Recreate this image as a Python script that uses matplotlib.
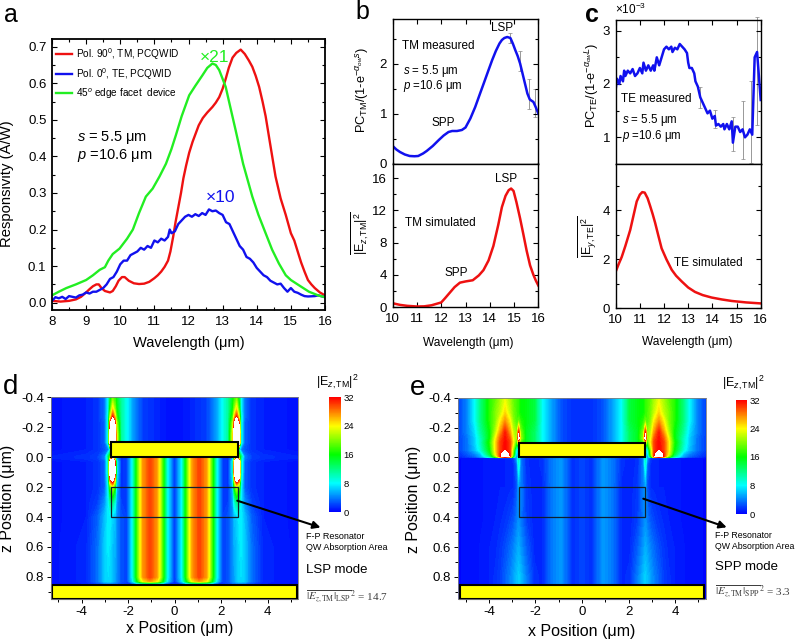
import numpy as np
import matplotlib
matplotlib.use('Agg')
import matplotlib.pyplot as plt
from matplotlib.colors import LinearSegmentedColormap, Normalize
from matplotlib.cm import ScalarMappable
from matplotlib.patches import Rectangle, FancyArrowPatch

plt.rcParams['font.family'] = ['Liberation Sans', 'DejaVu Sans']
plt.rcParams['mathtext.fontset'] = 'custom'
plt.rcParams['mathtext.rm'] = 'Liberation Sans'
plt.rcParams['mathtext.it'] = 'Liberation Sans:italic'
plt.rcParams['mathtext.bf'] = 'Liberation Sans:bold'
plt.rcParams['axes.unicode_minus'] = False

W, H = 800, 640

# panel a
a_red_x = [8, 8.25, 8.5, 8.7, 8.85, 9.0, 9.1, 9.2, 9.3, 9.37, 9.45, 9.55, 9.7, 9.78, 9.87, 9.95, 10.05, 10.13, 10.25,
           10.4, 10.55, 10.7, 10.85, 11.0, 11.1, 11.2, 11.3, 11.4, 11.47, 11.55, 11.62, 11.7, 11.78, 11.85, 11.93,
           12.02, 12.12, 12.2, 12.3, 12.42, 12.55, 12.7, 12.8, 12.9, 13.0, 13.09, 13.18, 13.29, 13.4, 13.53, 13.65,
           13.77, 13.87, 13.97, 14.07, 14.17, 14.26, 14.4, 14.55, 14.7, 14.85, 15.0, 15.1, 15.2, 15.3, 15.4, 15.5,
           15.6, 15.7, 15.85, 16]
a_red_y = [.005, .003, .005, .009, .016, .028, .037, .045, .05, .05, .04, .032, .028, .032, .045, .06, .07, .07, .06,
           .053, .051, .052, .057, .067, .075, .085, .098, .115, .14, .18, .22, .26, .30, .34, .375,
           .41, .44, .46, .485, .505, .52, .535, .547, .562, .585, .612, .642, .67, .683, .692, .68,
           .662, .645, .62, .59, .55, .51, .43, .345, .285, .24, .19, .17, .14, .11, .085, .062,
           .05, .04, .028, .02]
a_green_x = [8, 8.2, 8.42, 8.7, 9, 9.2, 9.4, 9.55, 9.65, 9.78, 9.98, 10.2, 10.37, 10.55, 10.75, 10.95, 11.15, 11.34,
             11.5, 11.63, 11.8, 12.02, 12.2, 12.41, 12.55, 12.7, 12.8, 12.9, 13.0, 13.09, 13.2, 13.38, 13.6, 13.87,
             14.05, 14.26, 14.45, 14.65, 14.85, 15, 15.23, 15.53, 15.8, 16]
a_green_y = [.02, .03, .04, .05, .062, .075, .09, .097, .115, .133, .148, .175, .2, .245, .29, .312, .345, .38,
             .42, .458, .51, .567, .593, .622, .642, .654, .65, .636, .612, .59, .545, .472, .38, .29,
             .24, .19, .145, .107, .075, .062, .048, .03, .02, .015]
a_blue_x = [8, 8.1, 8.2, 8.3, 8.4, 8.5, 8.6, 8.7, 8.8, 8.9, 9, 9.1, 9.2, 9.3, 9.4, 9.5, 9.6, 9.7, 9.8, 9.9, 10, 10.1,
            10.2, 10.3, 10.4, 10.5, 10.6, 10.7, 10.8, 10.9, 11, 11.1, 11.2, 11.3, 11.4, 11.45, 11.5, 11.6, 11.7, 11.8,
            11.9, 12, 12.1, 12.2, 12.3, 12.4, 12.5, 12.6, 12.7, 12.8, 12.9, 13, 13.1, 13.2, 13.3, 13.4, 13.5, 13.6,
            13.7, 13.8, 13.9, 14, 14.1, 14.2, 14.3, 14.4, 14.5, 14.6, 14.7, 14.8, 14.9, 15, 15.1, 15.2, 15.3, 15.4,
            15.5, 15.7, 15.8, 16]
a_blue_y = [.005, .015, .012, .016, .01, .018, .016, .014, .02, .022, .028, .025, .03, .03, .035, .04, .05, .065, .07,
            .085, .105, .115, .115, .13, .135, .14, .15, .145, .155, .15, .17, .165, .175, .17, .18, .2, .19, .195,
            .215, .225, .235, .24, .235, .242, .237, .245, .24, .255, .25, .252, .245, .24, .22, .215, .195, .175,
            .155, .145, .125, .12, .11, .095, .085, .075, .07, .06, .055, .05, .052, .04, .03, .04, .03, .027, .022,
            .018, .017, .018, .02, .015]

# panel b
b_meas_x = [10, 10.15, 10.3, 10.5, 10.7, 10.9, 11.05, 11.25, 11.4, 11.65, 11.9, 12.1, 12.3, 12.45, 12.65, 12.85, 13,
            13.2, 13.4, 13.6, 13.75, 13.95, 14.1, 14.25, 14.4, 14.5, 14.6, 14.72, 14.85, 14.95, 15.05, 15.15, 15.25,
            15.35, 15.45, 15.55, 15.65, 15.8, 15.9, 16]
b_meas_y = [.35, .28, .23, .18, .15, .145, .15, .2, .25, .35, .47, .56, .63, .65, .65, .67, .72,
            .9, 1.13, 1.4, 1.6, 1.87, 2.07, 2.25, 2.4, 2.47, 2.51, 2.53, 2.51, 2.4, 2.27, 2.15, 2,
            1.8, 1.6, 1.4, 1.28, 1.23, 1.12, 1]
b_err_x = [14.85, 15.25, 15.6, 15.85]
b_err_y = [2.51, 2.05, 1.4, 1.22]
b_err = [.1, .2, .3, .28]
b_sim_x = [10, 10.3, 10.6, 11, 11.3, 11.6, 12, 12.15, 12.35, 12.55, 12.77, 13, 13.3, 13.55, 13.74, 13.95, 14.15, 14.35,
           14.5, 14.65, 14.78, 14.88, 14.98, 15.1, 15.25, 15.38, 15.52, 15.66, 15.8, 15.9, 16]
b_sim_y = [.5, .3, .18, .1, .12, .25, .6, 1.1, 1.8, 2.5, 3.05, 3.2, 3.35, 3.95, 4.6, 5.8, 7.6, 10.2,
           12.4, 13.8, 14.5, 14.7, 14.4, 13, 11, 9.1, 7, 5.2, 4, 3.3, 2.7]

# panel c
c_meas_x = [10, 10.05, 10.15, 10.2, 10.3, 10.35, 10.4, 10.5, 10.6, 10.7, 10.8, 10.9, 11, 11.1, 11.15, 11.25, 11.35,
            11.45, 11.55, 11.6, 11.7, 11.8, 11.9, 12, 12.1, 12.2, 12.3, 12.35, 12.45, 12.55, 12.65, 12.75, 12.85,
            12.95, 13, 13.05, 13.15, 13.25, 13.3, 13.4, 13.5, 13.6, 13.7, 13.8, 13.9, 14, 14.1, 14.15, 14.25, 14.35,
            14.45, 14.5, 14.6, 14.7, 14.8, 14.85, 14.95, 15.05, 15.15, 15.25, 15.35, 15.45, 15.55, 15.65, 15.75,
            15.85, 15.95, 16]
c_meas_y = [1.9, 2.1, 2.0, 2.15, 2.05, 2.25, 2.15, 2.25, 2.2, 2.28, 2.15, 2.2, 2.3, 2.2, 2.4, 2.25, 2.35, 2.25, 2.35,
            2.25, 2.5, 2.35, 2.5, 2.65, 2.7, 2.65, 2.7, 2.6, 2.68, 2.65, 2.75, 2.7, 2.65, 2.58, 2.4, 2.3, 2.3, 2.2,
            2.05, 1.95, 1.75, 1.65, 1.55, 1.45, 1.5, 1.35, 1.4, 1.22, 1.25, 1.2, 1.25, 1.15, 1.25, 1.15, 1.3, .9,
            1.2, 1.2, 1.1, 1.15, 1.0, 1.05, 1.15, 1.05, 2.5, 2.6, 2.0, 1.7]
c_err_x = [13.5, 14.1, 14.85, 15.25, 15.6, 15.85]
c_err_y = [1.75, 1.35, 1.07, 1.14, 1.28, 2.24]
c_err = [.2, .17, .32, .54, .77, 1.01]
c_sim_x = [10, 10.12, 10.25, 10.4, 10.6, 10.75, 10.87, 11.0, 11.1, 11.2, 11.32, 11.42, 11.53, 11.63, 11.77, 11.9, 12.1,
           12.32, 12.5, 12.73, 13, 13.28, 13.6, 13.97, 14.4, 14.8, 15.4, 16]
c_sim_y = [1.5, 1.8, 2.1, 2.55, 3.2, 3.85, 4.37, 4.65, 4.75, 4.73, 4.5, 4.2, 3.85, 3.5, 2.95, 2.45, 2.0,
           1.57, 1.33, 1.1, .85, .67, .54, .44, .36, .3, .24, .2]

# panel d, field read on half of the width, |x| columns, z rows
d_x = [0, .31, .5, .66, .76, 1.06, 1.36, 1.46, 1.62, 1.81, 2.05, 2.3, 2.5, 2.56, 2.66, 2.77, 2.85, 3.0, 3.3, 3.8, 5.31]
d_z = [-.40, -.32, -.27, -.23, -.15, -.10, -.05, -.005, .005, .03, .10, .15, .20, .30, .40, .60, .80, .83, .85, .95]
d_over = [.5, .6, .8, 1, 1.2, 1.5, 2, 2.5, 3.5, 5, 8]
d_stripes = [1.5, 8, 17, 24, 27, 30, 27, 24, 17, 8, 2]
d_field = [
    d_over + [11, 15, 17, 19, 14, 8, 3.5, 1.5, 1, .5],
    d_over + [11, 16, 20, 25, 17, 8, 3.5, 1.5, 1, .5],
    d_over + [11, 18, 25, 31, 22, 9, 3.5, 1.5, 1, .5],
    d_over + [11, 21, 31, 40, 30, 9, 3, 1.5, 1, .5],
    d_over + [11, 24, 38, 70, 38, 9, 3, 1.5, 1, .5],
    d_over + [11, 24, 38, 70, 38, 9, 3, 1.5, 1, .5],
    d_over + [11, 24, 30, 30, 8, 4, 2.5, 1.5, 1, .5],
    d_over + [11, 24, 28, 26, 18, 12, 4, 2, 1.5, 1],
    d_stripes + [1.5, 5, 18, 24, 20, 11, 4, 2, 1.5, 1],
    d_stripes + [1.5, 8, 30, 70, 36, 10, 3, 1.5, 1, .5],
    d_stripes + [1.5, 8, 33, 70, 38, 10, 3, 1.5, 1, .5],
    d_stripes + [1.5, 7, 24, 36, 30, 9, 3, 1.5, 1, .5],
    d_stripes + [1.5, 6, 16, 22, 18, 8, 3, 1.5, 1, .5],
    d_stripes + [2, 5, 9, 12, 11, 7.5, 4.5, 2, 1, .5],
    d_stripes + [2.5, 4.5, 6, 6.5, 7.5, 7.5, 6, 3, 1, .5],
    d_stripes + [2.5, 4.5, 5.5, 6, 7, 7.5, 6.5, 3.5, 1.2, .5],
    d_stripes + [2.5, 4.5, 5, 6, 7, 7, 6.5, 3.5, 1.2, .5],
    [1.5, 7, 15, 21, 24, 27, 24, 21, 15, 7, 2, 2.5, 4.5, 5, 6, 7, 7, 6.5, 3.5, 1.2, .5],
    [1.5, 2, 3, 4, 4, 4, 4, 4, 3, 2, 1.5, 2, 3, 3, 3, 3, 3, 3, 2, 1, .5],
    [1.5, 2, 3, 4, 4, 4, 4, 4, 3, 2, 1.5, 2, 3, 3, 3, 3, 3, 3, 2, 1, .5],
]

# panel e
e_x = [0, .4, .9, 1.3, 1.7, 2.05, 2.4, 2.64, 2.72, 2.8, 2.95, 3.1, 3.3, 3.5, 3.7, 3.95, 4.35, 4.6, 4.95, 5.31]
e_z = [-.40, -.30, -.25, -.17, -.13, -.10, -.05, -.02, -.004, .004, .05, .20, .40, .60, .80, .95]
e_over = [1.5, 1.5, 2.5, 5, 8]
e_out = [1.2, 1, 1, 1, .8, .6, .5, .4, .3]
e_field = [
    e_over + [14, 15.5, 16, 17, 18, 19, 21, 23, 21, 19, 17, 12, 8, 4, 2],
    e_over + [14, 15.5, 16, 17, 18, 19.5, 22, 25, 22, 20, 17, 12, 8, 4, 2],
    e_over + [14, 15.5, 17, 19, 18, 20, 24, 27, 24, 20, 17, 12, 8, 4, 2],
    e_over + [13, 15, 20, 31, 20, 22, 27, 31, 27, 22, 16, 11, 7, 4, 2],
    e_over + [13, 15, 21, 35, 20, 23, 29, 31.5, 29, 24, 16, 10, 6.5, 3.5, 2],
    e_over + [13, 15, 18, 26, 16, 24, 30, 31.8, 30, 25, 17, 10, 6.5, 3.5, 2],
    e_over + [13, 14, 16, 8, 6, 20, 30, 31.9, 30, 25, 16, 9, 6, 3.5, 2],
    e_over + [13, 14, 16, 8, 4, 18, 31, 36, 31, 24, 14, 6, 4, 2.5, 1.5],
    e_over + [13, 14, 16, 8, 2, 14, 31, 37, 31, 20, 11, 5, 3, 2, 1],
    [2.2, 1.4, 4.8, 3.8, 1.5, 1, 1.5, 4, 10, 5, 1.5] + e_out,
    [2.2, 1.4, 4.8, 3.8, 1.5, 1, 1.5, 4, 9, 3, 1.3] + e_out,
    [2.2, 1.4, 4.8, 3.8, 1.2, 1, 1.8, 4, 5, 2.5, 1.3] + e_out,
    [2.2, 1.4, 4.8, 3.8, 1.2, 1, 2, 3.8, 4.5, 3.6, 2.5, 2, 1.5, 1.2, 1, .8, .6, .5, .4, .3],
    [2.2, 1.4, 4.8, 3.8, 1.2, 1.2, 3, 4.8, 5.5, 5, 4, 3.2, 2.3, 1.7, 1.2, 1, .7, .5, .4, .3],
    [2.2, 1.4, 4.8, 3.8, 1.2, 1.5, 4, 6, 6.5, 6, 5, 4, 3, 2, 1.5, 1, .7, .5, .4, .3],
    [2.2, 1.4, 4.8, 3.8, 1.2, 1.5, 4, 6, 6.5, 6, 5, 4, 3, 2, 1.5, 1, .7, .5, .4, .3],
]
cb_ticks = [0, 8, 16, 24, 32]

cmap = LinearSegmentedColormap.from_list('fld', ['#0000ff', '#00ffff', '#00ff00', '#ffff00', '#ff0000'])
cmap.set_over('white')
norm = Normalize(0, 32)

fig = plt.figure(figsize=(W / 100, H / 100), dpi=100)


def make_ax(l, t, r, b):
    return fig.add_axes([l / W, 1 - b / H, (r - l) / W, (b - t) / H])


def txt(x, y, s, size=8.5, ha='left', **kw):
    return fig.text(x / W, 1 - y / H, s, fontsize=size, ha=ha, va='center', **kw)


def curve_ticks(ax, lw=1.0):
    ax.tick_params(which='both', direction='in', top=True, right=True, width=.8, labelsize=9.5)
    ax.tick_params(axis='x', pad=4)
    ax.tick_params(axis='y', pad=4)
    ax.tick_params(which='major', length=3.5)
    ax.tick_params(which='minor', length=2)
    for sp in ax.spines.values():
        sp.set_linewidth(lw)


# a
ax = make_ax(52, 39, 325, 310)
ax.plot(a_red_x, a_red_y, color='#ee1111', lw=1.7, label='Pol. 90$^0$, TM, PCQWID')
ax.plot(a_blue_x, a_blue_y, color='#1111ee', lw=1.7, label='Pol. 0$^0$, TE, PCQWID')
ax.plot(a_green_x, a_green_y, color='#22ee22', lw=1.7, label='45$^o$ edge facet  device')
ax.set_xlim(8, 16)
ax.set_ylim(-.02, .721)
ax.set_xticks(range(8, 17))
ax.set_xticks(np.arange(8, 16.1, .5), minor=True)
ax.set_yticks(np.arange(0, .71, .1))
ax.set_yticks(np.arange(0, .71, .05), minor=True)
curve_ticks(ax, 1.3)
ax.legend(loc='upper left', bbox_to_anchor=(.015, .975), frameon=False, fontsize=7.2, handlelength=1.6,
          handletextpad=.4, labelspacing=.45, borderpad=0, borderaxespad=0)
txt(4, 15, 'a', 18)
txt(7.5, 184, 'Responsivity (A/W)', 10.7, ha='center', rotation=90)
txt(189, 343, 'Wavelength (μm)', 10.5, ha='center')
txt(215, 57, '×21', 12.5, ha='center', color='#22ee22')
txt(221, 197, '×10', 12.5, ha='center', color='#1111ee')
txt(77, 137, '$s$ = 5.5 μm', 10.5)
txt(77, 156, '$p$ =10.6 μm', 10.5)

# b
ax = make_ax(392.7, 19, 538.3, 163.5)
ax.errorbar(b_err_x, b_err_y, yerr=b_err, color='#888888', lw=.6, capsize=1.5, capthick=.5, ls='none', zorder=1)
ax.plot(b_meas_x, b_meas_y, color='#1111ee', lw=1.8)
ax.set_xlim(10, 16)
ax.set_ylim(0, 2.89)
ax.set_xticks(range(10, 17))
ax.set_xticklabels([])
ax.set_yticks([0, 1, 2])
ax.set_yticks([.5, 1.5, 2.5], minor=True)
curve_ticks(ax)
ax.tick_params(which='both', bottom=False)

ax = make_ax(392.7, 163.5, 538.3, 307.3)
ax.plot(b_sim_x, b_sim_y, color='#ee1111', lw=1.8)
ax.set_xlim(10, 16)
ax.set_ylim(0, 17.8)
ax.set_xticks(range(10, 17))
ax.set_yticks([0, 4, 8, 12, 16])
ax.set_yticks([2, 6, 10, 14], minor=True)
curve_ticks(ax)
ax.tick_params(which='both', top=False)
txt(355, 12, 'b', 18)
txt(438, 46, 'TM measured', 8.5, ha='center')
txt(402.7, 71.2, '$s$ = 5.5 μm', 8.3)
txt(402.7, 86.5, '$p$ =10.6 μm', 8.3)
txt(501.7, 28.3, 'LSP', 8.5, ha='center')
txt(443, 123, 'SPP', 8.5, ha='center')
txt(440.7, 222.7, 'TM simulated', 8.5, ha='center')
txt(505.7, 179, 'LSP', 8.5, ha='center')
txt(456, 273, 'SPP', 8.5, ha='center')
txt(362.7, 90, r'PC$_{\mathrm{TM}}$/(1-e$^{-\alpha_{ow}s}$)', 9.2, ha='center', rotation=90)
txt(360, 233, r'$\overline{|\mathrm{E}_{z,\mathrm{TM}}|^2}$', 9, ha='center', rotation=90)
txt(468, 343, 'Wavelength (μm)', 8.6, ha='center')

# c
ax = make_ax(615.7, 20, 760.7, 164)
ax.errorbar(c_err_x, c_err_y, yerr=c_err, color='#888888', lw=.6, capsize=1.5, capthick=.5, ls='none', zorder=1,
            clip_on=False)
ax.plot(c_meas_x, c_meas_y, color='#1111ee', lw=1.8)
ax.set_xlim(10, 16)
ax.set_ylim(.5, 3.2)
ax.set_xticks(range(10, 17))
ax.set_xticklabels([])
ax.set_yticks([1, 2, 3])
ax.set_yticks([1.5, 2.5], minor=True)
curve_ticks(ax)
ax.tick_params(which='both', bottom=False)

ax = make_ax(615.7, 164, 760.7, 308.3)
ax.plot(c_sim_x, c_sim_y, color='#ee1111', lw=1.8)
ax.set_xlim(10, 16)
ax.set_ylim(0, 5.9)
ax.set_xticks(range(10, 17))
ax.set_yticks([0, 2, 4])
ax.set_yticks([1, 3, 5], minor=True)
curve_ticks(ax)
ax.tick_params(which='both', top=False)
txt(585, 15, 'c', 18, fontweight='bold')
txt(615, 9, r'×10$^{-3}$', 8.5)
txt(656, 99, 'TE measured', 8.5, ha='center')
txt(621.7, 120.5, '$s$ = 5.5 μm', 8.3)
txt(621.7, 136.5, '$p$ =10.6 μm', 8.3)
txt(708, 263, 'TE simulated', 8.5, ha='center')
txt(592, 85, r'PC$_{\mathrm{TE}}$/(1-e$^{-\alpha_{ow}L}$)', 9.2, ha='center', rotation=90)
txt(587, 237, r'$\overline{|\mathrm{E}_{y,\mathrm{TE}}|^2}$', 9, ha='center', rotation=90)
txt(687, 342, 'Wavelength (μm)', 8.6, ha='center')


def field_panel(box, xs, zs, field, head):
    ax = make_ax(*box)
    half = np.array(xs)
    vals = np.array(field)
    x_full = np.concatenate([-half[::-1], half[1:]])
    vals_full = np.hstack([vals[:, ::-1], vals[:, 1:]])
    ax.contourf(x_full, zs, vals_full, levels=np.linspace(0, 32, 97), cmap=cmap, norm=norm, extend='max',
                antialiased=False)
    ax.set_xlim(-5.31, 5.31)
    ax.set_ylim(.95, -.4)
    ax.add_patch(Rectangle((-2.72, -.1), 5.44, .1, fc='#ffff00', ec='k', lw=1.5))
    ax.add_patch(Rectangle((-5.25, .855), 10.5, .095, fc='#ffff00', ec='k', lw=1.5, clip_on=False))
    ax.add_patch(Rectangle((-2.72, .2), 5.44, .2, fc='none', ec='#102030', lw=.9))
    ax.set_xticks([-4, -2, 0, 2, 4])
    ax.set_xticks([-5, -3, -1, 1, 3, 5], minor=True)
    ax.set_yticks([-.4, -.2, 0, .2, .4, .6, .8])
    ax.set_yticklabels(['-0.4', '-0.2', '0.0', '0.2', '0.4', '0.6', '0.8'])
    ax.set_yticks(np.arange(-.3, .95, .2), minor=True)
    ax.tick_params(which='both', direction='out', labelsize=9.5, width=.7, pad=2)
    ax.tick_params(which='major', length=3)
    ax.tick_params(which='minor', length=2)
    for sp in ax.spines.values():
        sp.set_linewidth(.6)
        sp.set_color('#808080')
    fig.add_artist(FancyArrowPatch(
        (head[0] / W, 1 - head[1] / H), (head[2] / W, 1 - head[3] / H), transform=fig.transFigure,
        arrowstyle='-|>', mutation_scale=11, lw=1.5, color='k', shrinkA=0, shrinkB=0))


def colorbar(box, x_title, y_title):
    cax = make_ax(*box)
    cb = fig.colorbar(ScalarMappable(norm=norm, cmap=cmap), cax=cax, ticks=cb_ticks)
    cb.outline.set_visible(False)
    cax.tick_params(length=0, labelsize=6.8, pad=2)
    txt(x_title, y_title, r'|E$_{z,\mathrm{TM}}$|$^2$', 9, ha='center')


# d
field_panel((51, 397.3, 298.3, 599.3), d_x, d_z, d_field, (237.3, 500.7, 320.5, 527.5))
colorbar((329.3, 397.3, 340.7, 512), 337, 382)
txt(3, 387, 'd', 20)
txt(180, 628, 'x Position (μm)', 11.5, ha='center')
txt(8, 498, 'z Position (μm)', 11.5, ha='center', rotation=90)
txt(306, 536.7, 'F-P Resonator', 6.5)
txt(306, 547.7, 'QW Absorption Area', 6.5)
txt(306, 570, 'LSP mode', 9.5)
txt(306, 597, r'$\overline{|E_{z,\mathrm{TM}}|_{\mathrm{LSP}}}^{\,2}$ = 14.7', 8, color='#404040',
    math_fontfamily='stix', family='Liberation Serif')

# e
field_panel((458.3, 397.7, 705.7, 599.3), e_x, e_z, e_field, (643.3, 498.7, 726.7, 527.3))
colorbar((735.7, 400, 746.7, 514), 743, 383)
txt(410, 388, 'e', 20)
txt(581.7, 631.7, 'x Position (μm)', 11.5, ha='center')
txt(414, 499, 'z Position (μm)', 11.5, ha='center', rotation=90)
txt(715, 535.7, 'F-P Resonator', 6.3)
txt(715, 546.7, 'QW Absorption Area', 6.3)
txt(715, 566.7, 'SPP mode', 9.5)
txt(715, 591.7, r'$\overline{|E_{z,\mathrm{TM}}|_{\mathrm{SPP}}}^{\,2}$ = 3.3', 8, color='#404040',
    math_fontfamily='stix', family='Liberation Serif')

fig.savefig('out.png', dpi=100)
